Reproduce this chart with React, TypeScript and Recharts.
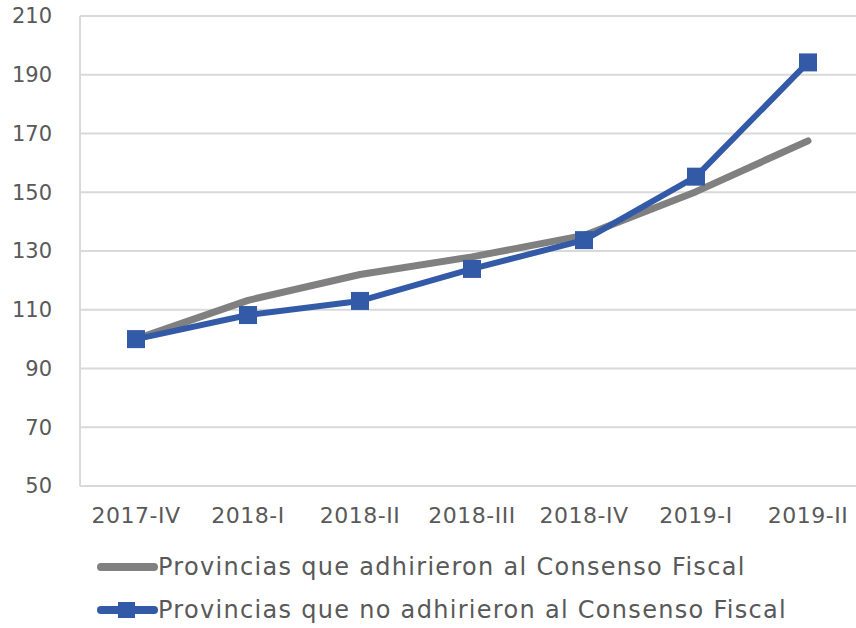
import { LineChart, Line, XAxis, YAxis, CartesianGrid, Legend } from 'recharts';

const PERIODS = ['2017-IV', '2018-I', '2018-II', '2018-III', '2018-IV', '2019-I', '2019-II'];
const ADHIRIERON = [100, 113.2, 122, 128, 135.3, 150.2, 167.5];
const NO_ADHIRIERON = [100, 108.2, 113, 123.9, 133.7, 155.3, 194.2];
const Y_TICKS = [50, 70, 90, 110, 130, 150, 170, 190, 210];

const SERIES_GRAY = 'Provincias que adhirieron al Consenso Fiscal';
const SERIES_BLUE = 'Provincias que no adhirieron al Consenso Fiscal';

const GRAY = '#808080';
const BLUE = '#335aa7';
const TEXT = '#595959';
const FONT = '"DejaVu Sans", sans-serif';

const data = PERIODS.map((p, i) => ({
  period: p,
  adh: ADHIRIERON[i],
  noAdh: NO_ADHIRIERON[i],
}));

const SquareDot = (props: any) => {
  const { cx, cy } = props;
  if (cx == null || cy == null) return null;
  return <rect x={cx - 9} y={cy - 9} width={18} height={18} fill={BLUE} />;
};

const LegendBox = () => (
  <div style={{ height: 92, position: 'relative', fontFamily: FONT, fontSize: 24, letterSpacing: 1.3, color: TEXT }}>
    <div style={{ position: 'absolute', left: 0, top: 13, display: 'flex', alignItems: 'center', height: 36, whiteSpace: 'nowrap' }}>
      <svg width={62} height={20} style={{ marginLeft: 96 }}>
        <line x1={5} y1={10} x2={58} y2={10} stroke={GRAY} strokeWidth={8} strokeLinecap="round" />
      </svg>
      <span>{SERIES_GRAY}</span>
    </div>
    <div style={{ position: 'absolute', left: 0, top: 56, display: 'flex', alignItems: 'center', height: 36, whiteSpace: 'nowrap' }}>
      <svg width={62} height={20} style={{ marginLeft: 96 }}>
        <line x1={5} y1={10} x2={58} y2={10} stroke={BLUE} strokeWidth={8} strokeLinecap="round" />
        <rect x={22} y={2} width={17} height={16} fill={BLUE} />
      </svg>
      <span>{SERIES_BLUE}</span>
    </div>
  </div>
);

export default function App() {
  return (
    <div style={{ position: 'absolute', left: 0, top: 0 }}>
      <LineChart width={864} height={628} data={data} margin={{ top: 16, right: 0, bottom: 0, left: 0 }}>
        <CartesianGrid vertical={false} stroke="#d9d9d9" strokeWidth={2} />
        <XAxis
          dataKey="period"
          padding={{ left: 56, right: 56 }}
          axisLine={false}
          tickLine={false}
          tickSize={0}
          tickMargin={21}
          height={50}
          tick={{ fill: TEXT, fontSize: 22, fontFamily: FONT, letterSpacing: 0.5 }}
          interval={0}
        />
        <YAxis
          domain={[50, 210]}
          ticks={Y_TICKS}
          width={80}
          axisLine={{ stroke: '#d9d9d9', strokeWidth: 2 }}
          tickLine={false}
          tickSize={0}
          tickMargin={28}
          tick={{ fill: TEXT, fontSize: 21, fontFamily: FONT }}
          interval={0}
        />
        <Legend verticalAlign="bottom" align="left" content={<LegendBox />} wrapperStyle={{ height: 92 }} />
        <Line
          dataKey="adh"
          name={SERIES_GRAY}
          stroke={GRAY}
          strokeWidth={7}
          strokeLinecap="round"
          strokeLinejoin="round"
          dot={false}
          activeDot={false}
          isAnimationActive={false}
        />
        <Line
          dataKey="noAdh"
          name={SERIES_BLUE}
          stroke={BLUE}
          strokeWidth={6}
          strokeLinejoin="round"
          dot={<SquareDot />}
          activeDot={false}
          isAnimationActive={false}
        />
      </LineChart>
    </div>
  );
}
